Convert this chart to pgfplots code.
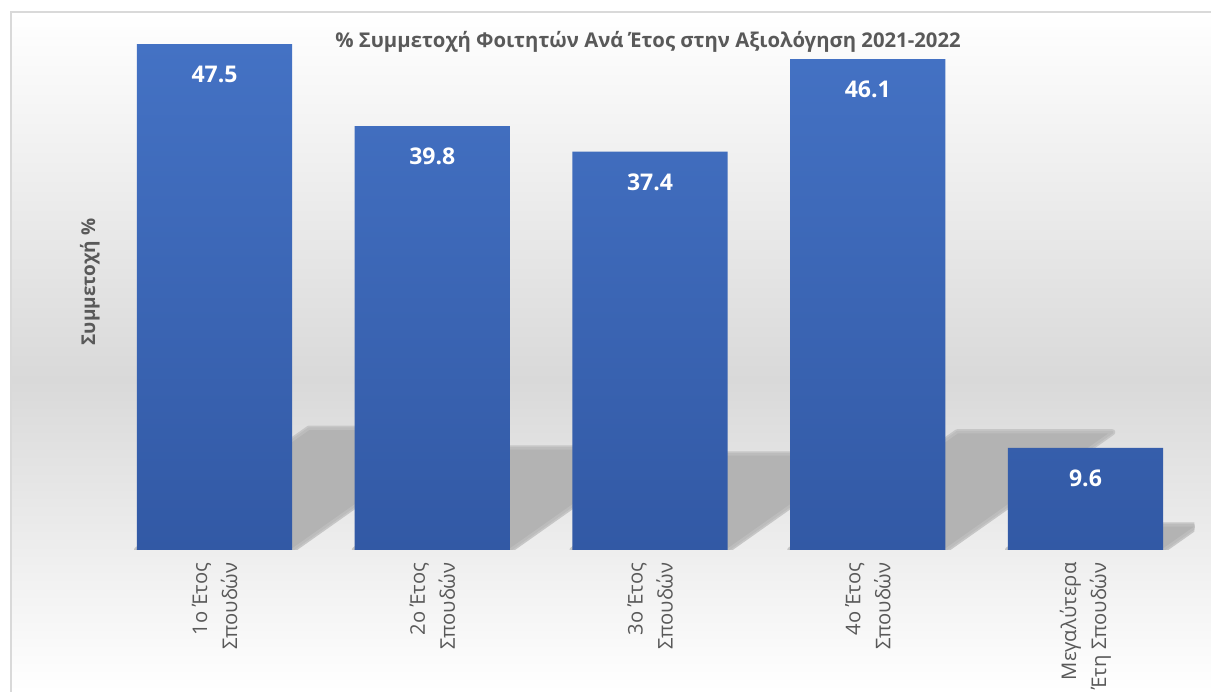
\documentclass[border=0pt]{standalone}
\usepackage{fontspec}
\setmainfont{Open Sans}
\usepackage{pgfplots}
\pgfplotsset{compat=1.18}

\definecolor{barTop}{HTML}{4472C4}
\definecolor{barBot}{HTML}{3259A5}
\definecolor{txtGray}{HTML}{595959}
\definecolor{bgMid}{HTML}{D9D9D9}
\definecolor{frameGray}{HTML}{D9D9D9}
\definecolor{shadowC}{HTML}{B3B3B3}
\definecolor{shadowSoft}{HTML}{C6C6C6}
\definecolor{shadowMid}{HTML}{BCBCBC}

\begin{document}
\begin{tikzpicture}
\useasboundingbox (0,0) rectangle (1211pt,692pt);
% chart area background: white -> grey -> white
\shade[top color=white, bottom color=bgMid] (11pt,312pt) rectangle (1211pt,680pt);
\shade[top color=bgMid, bottom color=white] (11pt,0pt) rectangle (1211pt,312.5pt);
\draw[frameGray, line width=1.2pt] (11pt,-5pt) -- (11pt,680pt) -- (1220pt,680pt);

\node[anchor=base, font=\fontsize{20.3}{24}\selectfont\bfseries, text=txtGray]
  at (648pt,644pt) {\% Συμμετοχή Φοιτητών Ανά Έτος στην Αξιολόγηση 2021-2022};
\node[anchor=base, rotate=90, font=\fontsize{19}{23}\selectfont\bfseries, text=txtGray]
  at (95pt,410pt) {Συμμετοχή \%};

\begin{axis}[
  at={(105.6pt,142pt)}, anchor=south west,
  scale only axis, width=1088.8pt, height=511.2pt,
  xmin=-0.5, xmax=4.5, ymin=0, ymax=48,
  axis line style={draw=none},
  ytick=\empty,
  xtick={0,1,2,3,4},
  xticklabels={{1ο Έτος\\Σπουδών},{2ο Έτος\\Σπουδών},{3ο Έτος\\Σπουδών},{4ο Έτος\\Σπουδών},{Μεγαλύτερα\\Έτη Σπουδών}},
  xticklabel style={rotate=90, anchor=east, align=right,
    font=\fontsize{20.2}{30}\selectfont, text=txtGray},
  xticklabel shift=9pt,
  major tick length=0pt,
  /pgf/number format/.cd, fixed, fixed zerofill, precision=1, assume math mode=true,
]
% perspective shadows behind the bars (soft edge, then core)
\addplot[draw=shadowSoft, fill=shadowSoft, line width=6pt, line join=round, forget plot]
  coordinates {(-0.356,0) (0.356,0) (1.146,11.4) (0.434,11.4)} -- cycle;
\addplot[draw=shadowSoft, fill=shadowSoft, line width=6pt, line join=round, forget plot]
  coordinates {(0.644,0) (1.356,0) (2.018,9.55) (1.306,9.55)} -- cycle;
\addplot[draw=shadowSoft, fill=shadowSoft, line width=6pt, line join=round, forget plot]
  coordinates {(1.644,0) (2.356,0) (2.978,8.98) (2.266,8.98)} -- cycle;
\addplot[draw=shadowSoft, fill=shadowSoft, line width=6pt, line join=round, forget plot]
  coordinates {(2.644,0) (3.356,0) (4.123,11.06) (3.411,11.06)} -- cycle;
\addplot[draw=shadowSoft, fill=shadowSoft, line width=6pt, line join=round, forget plot]
  coordinates {(3.644,0) (4.356,0) (4.516,2.30) (3.804,2.30)} -- cycle;

\addplot[draw=shadowMid, fill=shadowC, line width=2.5pt, line join=round, forget plot]
  coordinates {(-0.356,0) (0.356,0) (1.146,11.4) (0.434,11.4)} -- cycle;
\addplot[draw=shadowMid, fill=shadowC, line width=2.5pt, line join=round, forget plot]
  coordinates {(0.644,0) (1.356,0) (2.018,9.55) (1.306,9.55)} -- cycle;
\addplot[draw=shadowMid, fill=shadowC, line width=2.5pt, line join=round, forget plot]
  coordinates {(1.644,0) (2.356,0) (2.978,8.98) (2.266,8.98)} -- cycle;
\addplot[draw=shadowMid, fill=shadowC, line width=2.5pt, line join=round, forget plot]
  coordinates {(2.644,0) (3.356,0) (4.123,11.06) (3.411,11.06)} -- cycle;
\addplot[draw=shadowMid, fill=shadowC, line width=2.5pt, line join=round, forget plot]
  coordinates {(3.644,0) (4.356,0) (4.516,2.30) (3.804,2.30)} -- cycle;

% bars
\addplot[ybar, bar width=0.712, draw=none, top color=barTop, bottom color=barBot,
  nodes near coords,
  every node near coord/.append style={anchor=center, yshift=-30.5pt, text=white,
    font=\fontsize{23}{28}\selectfont\bfseries}]
  coordinates {(0,47.5) (1,39.8) (2,37.4) (3,46.1) (4,9.6)};
\end{axis}
\end{tikzpicture}
\end{document}
